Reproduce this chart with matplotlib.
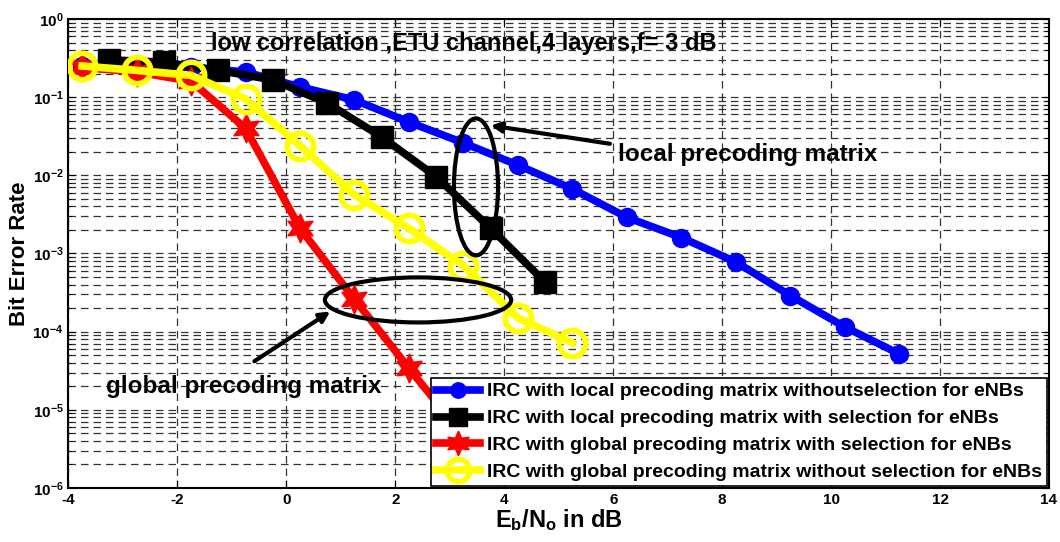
import numpy as np
import matplotlib.pyplot as plt
from matplotlib.patches import Ellipse
from matplotlib.ticker import LogLocator, NullFormatter

plt.rcParams.update({
    "font.family": "Liberation Sans",
    "font.weight": "bold",
    "mathtext.fontset": "custom",
    "mathtext.rm": "Liberation Sans:bold",
    "mathtext.it": "Liberation Sans:bold",
    "mathtext.bf": "Liberation Sans:bold",
    "axes.linewidth": 1.5,
    "axes.unicode_minus": False,
})

# data
snr_a = [-3.75, -2.75, -1.75, -0.75, 0.25, 1.25, 2.25, 3.25, 4.25, 5.25,
         6.25, 7.25, 8.25, 9.25, 10.25, 11.25]
ber_local_nosel = [0.25, 0.26, 0.24, 0.21, 0.135, 0.092, 0.048, 0.026, 0.0135,
                   0.0067, 0.0029, 0.0016, 7.8e-4, 2.9e-4, 1.15e-4, 5.2e-5]

snr_b = [-3.25, -2.25, -1.25, -0.25, 0.75, 1.75, 2.75, 3.75, 4.75]
ber_local_sel = [0.30, 0.28, 0.22, 0.166, 0.084, 0.031, 0.0096, 0.0021, 4.3e-4]

snr_c = [-3.75, -2.75, -1.75, -0.75, 0.25, 1.25, 2.25, 3.25]
ber_global_sel = [0.24, 0.21, 0.16, 0.040, 0.0021, 2.6e-4, 3.4e-5, 4.7e-6]

snr_d = [-3.75, -2.75, -1.75, -0.75, 0.25, 1.25, 2.25, 3.25, 4.25, 5.25]
ber_global_nosel = [0.25, 0.22, 0.19, 0.095, 0.024, 0.0056, 0.0021, 7.0e-4,
                    1.5e-4, 7.2e-5]

labels = [
    "IRC with local precoding matrix withoutselection for eNBs",
    "IRC with local precoding matrix with selection for eNBs",
    "IRC with global precoding matrix with selection for eNBs",
    "IRC with global precoding matrix without selection for eNBs",
]

fig = plt.figure(figsize=(10.6, 5.42), dpi=100)
ax = fig.add_axes([0.0646, 0.0996, 0.925, 0.8654])

hexagram = (6, 1, 0)
ax.plot(snr_a, ber_local_nosel, "-o", color="#0000ff", lw=5.5, ms=13,
        label=labels[0], zorder=3)
ax.plot(snr_b, ber_local_sel, "-s", color="black", lw=5.5, ms=16,
        label=labels[1], zorder=4)
ax.plot(snr_c, ber_global_sel, "-", marker=hexagram, color="#ff0000", lw=5.5, ms=21,
        label=labels[2], zorder=5)
ax.plot(snr_d, ber_global_nosel, "-o", color="#ffff00", lw=5.5, ms=19,
        mfc="none", mew=4, label=labels[3], zorder=6)

ax.set_yscale("log")
ax.set_xlim(-4, 14)
ax.set_ylim(1e-6, 1)
ax.set_xticks(np.arange(-4, 15, 2))
ax.yaxis.set_major_locator(LogLocator(base=10, numticks=10))
ax.yaxis.set_minor_locator(LogLocator(base=10, subs=np.arange(2, 10), numticks=10))
ax.yaxis.set_minor_formatter(NullFormatter())
ax.tick_params(which="both", direction="in", top=True, right=True, labelsize=11)
ax.tick_params(which="major", length=6)
ax.tick_params(which="minor", length=3)

ax.grid(True, which="major", axis="x", ls=(0, (6, 4)), color="#333333", lw=0.9)
ax.grid(True, which="both", axis="y", ls=(0, (6, 4)), color="#333333", lw=0.9)

ax.set_xlabel(r"E$_b$/N$_o$ in dB", fontsize=17, fontweight="bold", labelpad=0)
ax.set_ylabel("Bit Error Rate", fontsize=16, fontweight="bold", labelpad=2)

ax.text(0.145, 0.948, "low correlation ,ETU channel,4 layers,f= 3 dB",
        transform=ax.transAxes, fontsize=17, fontweight="bold", va="center")

# annotation ellipses
ax.add_patch(Ellipse((0.4156, 0.642), 0.045, 0.292, transform=ax.transAxes,
                     fill=False, ec="black", lw=3, zorder=7))
ax.add_patch(Ellipse((0.3565, 0.401), 0.19, 0.096, transform=ax.transAxes,
                     fill=False, ec="black", lw=3, zorder=7))

ax.annotate("", xy=(3.70, 0.044), xytext=(5.99, 0.025),
            arrowprops=dict(arrowstyle="-|>", color="black", lw=3, mutation_scale=15),
            zorder=8)
ax.text(6.08, 0.0185, "local precoding matrix", fontsize=17.5, fontweight="bold",
        va="center", ha="left")

ax.annotate("", xy=(0.85, 1.9e-4), xytext=(-0.63, 4e-5),
            arrowprops=dict(arrowstyle="-|>", color="black", lw=3, mutation_scale=15),
            zorder=8)
ax.text(-3.31, 2.0e-5, "global precoding matrix", fontsize=17.5, fontweight="bold",
        va="center", ha="left")

leg = ax.legend(loc="lower right", fontsize=14, handlelength=2.3, handletextpad=0.35,
                borderaxespad=0.1, labelspacing=0.48, borderpad=0.25,
                markerscale=0.85, fancybox=False, framealpha=1, edgecolor="black")
leg.get_frame().set_linewidth(1.2)
leg.set_zorder(10)

fig.savefig("out.png", dpi=100)
